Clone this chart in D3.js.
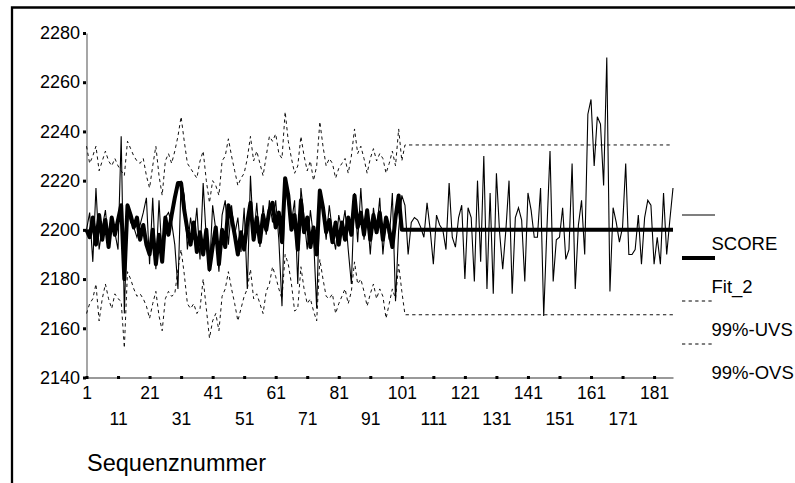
<!DOCTYPE html>
<html>
<head>
<meta charset="utf-8">
<script src="https://cdn.jsdelivr.net/npm/d3@7"></script>
<style>
  html, body { margin: 0; padding: 0; background: #fff; }
  svg { display: block; font-family: "Liberation Sans", Arial, sans-serif; }
</style>
</head>
<body>
<svg id="chart" width="795" height="483"></svg>
<script>
// Sequenznummer 1..187
const seqNr = d3.range(1, 188);

const score = [
  2200, 2207, 2187, 2217, 2192, 2201, 2208, 2194, 2203, 2199,
  2192, 2238, 2166, 2208, 2203, 2201, 2197, 2202, 2207, 2213,
  2186, 2213, 2184, 2212, 2188, 2205, 2207, 2203, 2194, 2176,
  2220, 2214, 2192, 2205, 2196, 2209, 2188, 2219, 2196, 2183,
  2210, 2200, 2183, 2206, 2212, 2194, 2210, 2198, 2205, 2191,
  2209, 2176, 2222, 2196, 2211, 2193, 2210, 2198, 2212, 2203,
  2212, 2196, 2169, 2218, 2210, 2203, 2212, 2178, 2217, 2205,
  2192, 2208, 2197, 2168, 2214, 2208, 2196, 2210, 2199, 2192,
  2206, 2200, 2208, 2192, 2178, 2215, 2195, 2217, 2196, 2207,
  2190, 2209, 2199, 2213, 2190, 2205, 2196, 2215, 2171, 2200,
  2214, 2210, 2190, 2203, 2205, 2204, 2201, 2197, 2211, 2200,
  2186, 2206, 2202, 2200, 2192, 2219, 2197, 2193, 2205, 2210,
  2180, 2209, 2205, 2179, 2220, 2187, 2230, 2176, 2215, 2174,
  2223, 2199, 2184, 2200, 2220, 2174, 2205, 2209, 2204, 2179,
  2215, 2208, 2197, 2197, 2217, 2165, 2200, 2232, 2179, 2196,
  2197, 2209, 2188, 2192, 2227, 2176, 2202, 2212, 2190, 2247,
  2253, 2226, 2246, 2243, 2218, 2270, 2175, 2209, 2203, 2195,
  2201, 2227, 2190, 2190, 2192, 2206, 2186, 2205, 2212, 2210,
  2186, 2197, 2186, 2215, 2190, 2204, 2217
];

// fitted values 1..101
const fit2 = [
  2200, 2197, 2205, 2194, 2206, 2196, 2204, 2193, 2205, 2198,
  2204, 2210, 2180, 2210, 2206, 2201, 2205, 2196, 2202, 2194,
  2190, 2200, 2186, 2198, 2187, 2205, 2198, 2206, 2213, 2219,
  2219, 2208, 2200, 2194, 2203, 2191, 2199, 2190, 2200, 2184,
  2193, 2201, 2186, 2200, 2193, 2210, 2205, 2198, 2190, 2199,
  2192, 2203, 2211, 2196, 2205, 2195, 2206, 2200, 2208, 2211,
  2201, 2207, 2195, 2221, 2214, 2200, 2206, 2192, 2212, 2199,
  2205, 2193, 2201, 2190, 2216, 2209, 2199, 2204, 2195, 2203,
  2194, 2203, 2196, 2205, 2198, 2214, 2201, 2207, 2198, 2208,
  2196, 2206, 2199, 2207, 2196, 2205, 2200, 2193, 2205, 2214,
  2200
];

// obere 99% grenze 1..101
const ovs99 = [
  2234, 2227, 2230, 2234, 2224, 2228, 2232, 2228, 2226, 2229,
  2226, 2224, 2222, 2236, 2233, 2230, 2228, 2227, 2229, 2222,
  2217, 2226, 2234, 2222, 2214, 2228, 2231, 2227, 2232, 2238,
  2246, 2236, 2227, 2225, 2223, 2221, 2228, 2232, 2220, 2211,
  2220, 2218, 2214, 2228, 2230, 2237, 2230, 2224, 2218, 2221,
  2223, 2229, 2238, 2228, 2232, 2227, 2222, 2230, 2238, 2236,
  2239, 2231, 2229, 2248, 2236, 2229, 2223, 2226, 2238, 2230,
  2224, 2228, 2220, 2226, 2244, 2234, 2226, 2229, 2227, 2221,
  2225, 2227, 2229, 2223, 2230, 2241, 2231, 2234, 2229, 2223,
  2229, 2233, 2228, 2231, 2229, 2223, 2227, 2232, 2226, 2241,
  2228
];

// untere 99% grenze 1..101
const uvs99 = [
  2166, 2170, 2172, 2178, 2163, 2172, 2178, 2172, 2168, 2174,
  2172, 2171, 2152, 2183, 2180, 2176, 2173, 2174, 2172, 2169,
  2164, 2170, 2175, 2165, 2159, 2172, 2175, 2173, 2174, 2184,
  2192, 2182, 2170, 2168, 2170, 2166, 2168, 2180, 2168, 2156,
  2163, 2166, 2159, 2173, 2176, 2183, 2176, 2170, 2163, 2168,
  2173, 2176, 2184, 2172, 2174, 2170, 2166, 2175, 2178, 2185,
  2181, 2176, 2172, 2190, 2186, 2178, 2167, 2168, 2185, 2176,
  2170, 2172, 2167, 2163, 2188, 2180, 2173, 2172, 2174, 2166,
  2170, 2173, 2176, 2170, 2175, 2187, 2178, 2180, 2175, 2169,
  2174, 2178, 2172, 2176, 2173, 2164, 2170, 2176, 2172, 2186,
  2175
];

// forecast part (102..187)
const forecastStart = 102;
const forecastEnd = 187;
const forecastFit = 2200;
const forecastOVS = 2234.5;
const forecastUVS = 2165.5;

const yTicks = [2140, 2160, 2180, 2200, 2220, 2240, 2260, 2280];
const xTicks = [1, 11, 21, 31, 41, 51, 61, 71, 81, 91, 101, 111, 121, 131, 141, 151, 161, 171, 181];
const legendNames = ["SCORE", "Fit_2", "99%-UVS", "99%-OVS"];

const svg = d3.select("#chart");

// frame (left + top only)
svg.append("path")
  .attr("d", "M12,483V7.5H795")
  .attr("fill", "none")
  .attr("stroke", "#000")
  .attr("stroke-width", 2.3);

const x = d3.scaleLinear().domain([1, 187]).range([86.5, 673]);
const y = d3.scaleLinear().domain([2140, 2280]).range([377.5, 33]);

// axes
const yAxis = svg.append("g")
  .attr("transform", `translate(${x.range()[0]},0)`)
  .call(d3.axisLeft(y).tickValues(yTicks).tickSize(0).tickPadding(6.5).tickFormat(d3.format("d")));
yAxis.select(".domain").attr("stroke", "#777").attr("stroke-width", 1.3);
yAxis.selectAll("text").attr("font-size", 18).attr("fill", "#000").attr("font-family", "Liberation Sans, Arial");
yAxis.selectAll(".tick").append("rect")
  .attr("x", -3.5).attr("y", -1.5).attr("width", 3).attr("height", 3).attr("fill", "#000");

const xAxis = svg.append("g")
  .attr("transform", `translate(0,${y.range()[0]})`)
  .call(d3.axisBottom(x).tickValues(xTicks).tickSize(0).tickPadding(0).tickFormat(d3.format("d")));
xAxis.select(".domain").attr("stroke", "#777").attr("stroke-width", 1.3);
xAxis.selectAll("text")
  .attr("font-size", 17.5)
  .attr("fill", "#000")
  .attr("font-family", "Liberation Sans, Arial")
  .attr("y", (d, i) => i % 2 === 0 ? 21.5 : 47.5)
  .attr("dy", 0);
xAxis.selectAll(".tick").append("rect")
  .attr("x", -1.5).attr("y", -1.5).attr("width", 3).attr("height", 3).attr("fill", "#000");

svg.append("text")
  .attr("x", 87)
  .attr("y", 471)
  .attr("font-size", 23.5)
  .text("Sequenznummer");

// series
const line = d3.line().x(d => x(d.n)).y(d => y(d.v));

const withForecast = (vals, fc) => vals.map((v, i) => ({ n: seqNr[i], v }))
  .concat([{ n: forecastStart, v: fc }, { n: forecastEnd, v: fc }]);

const plot = svg.append("g");

plot.append("path")
  .datum(withForecast(ovs99, forecastOVS))
  .attr("d", line)
  .attr("fill", "none").attr("stroke", "#111").attr("stroke-width", 1)
  .attr("stroke-dasharray", "3.3,3.3");

plot.append("path")
  .datum(withForecast(uvs99, forecastUVS))
  .attr("d", line)
  .attr("fill", "none").attr("stroke", "#111").attr("stroke-width", 1)
  .attr("stroke-dasharray", "3.3,3.3");

plot.append("path")
  .datum(score.map((v, i) => ({ n: seqNr[i], v })))
  .attr("d", line)
  .attr("fill", "none").attr("stroke", "#000").attr("stroke-width", 1.1)
  .attr("stroke-linejoin", "miter");

plot.append("path")
  .datum(withForecast(fit2, forecastFit))
  .attr("d", line)
  .attr("fill", "none").attr("stroke", "#000").attr("stroke-width", 4)
  .attr("stroke-linejoin", "round");

// legend
const legendStyles = [
  { w: 1.1, dash: null },
  { w: 4, dash: null },
  { w: 1, dash: "3.3,3.3" },
  { w: 1, dash: "3.3,3.3" }
];
const legend = svg.append("g").attr("transform", "translate(682,215)");
legendNames.forEach((name, i) => {
  const g = legend.append("g").attr("transform", `translate(0,${i * 43})`);
  g.append("line")
    .attr("x1", 0).attr("x2", 33).attr("y1", 0).attr("y2", 0)
    .attr("stroke", "#000")
    .attr("stroke-width", legendStyles[i].w)
    .attr("stroke-dasharray", legendStyles[i].dash);
  g.append("text")
    .attr("x", 29.5).attr("y", 34.5)
    .attr("font-size", 18.5)
    .text(name);
});
</script>
</body>
</html>
